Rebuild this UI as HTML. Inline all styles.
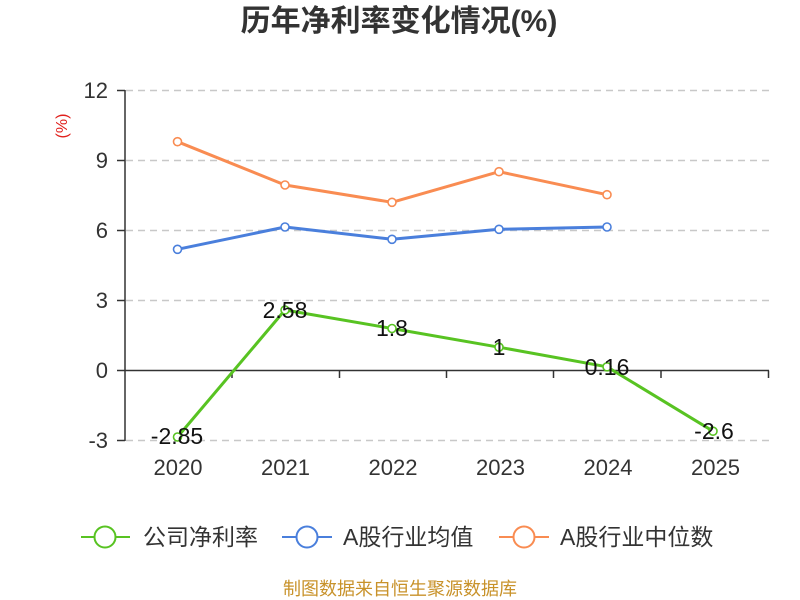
<!DOCTYPE html>
<html><head><meta charset="utf-8"><style>
html,body{margin:0;padding:0;background:#fff;width:800px;height:600px;overflow:hidden}
svg{display:block}
text{font-family:"Liberation Sans","Noto Sans CJK SC",sans-serif}
</style></head><body>
<svg width="800" height="600" viewBox="0 0 800 600" xmlns="http://www.w3.org/2000/svg">
<text x="399" y="31" text-anchor="middle" font-size="30" font-weight="bold" fill="#333" font-family="'Liberation Sans','Noto Sans CJK SC',sans-serif">历年净利率变化情况(%)</text>
<g stroke="#c8c8c8" stroke-width="1.5" stroke-dasharray="7,5">
<line x1="126" y1="90.5" x2="769" y2="90.5"/>
<line x1="126" y1="160.5" x2="769" y2="160.5"/>
<line x1="126" y1="230.5" x2="769" y2="230.5"/>
<line x1="126" y1="300.5" x2="769" y2="300.5"/>
<line x1="126" y1="440.5" x2="769" y2="440.5"/>
</g>
<g stroke="#333" stroke-width="1.5" fill="none">
<line x1="125" y1="90" x2="125" y2="441"/>
<line x1="117" y1="90.5" x2="125" y2="90.5"/>
<line x1="117" y1="160.5" x2="125" y2="160.5"/>
<line x1="117" y1="230.5" x2="125" y2="230.5"/>
<line x1="117" y1="300.5" x2="125" y2="300.5"/>
<line x1="117" y1="370.5" x2="125" y2="370.5"/>
<line x1="117" y1="440.5" x2="125" y2="440.5"/>
<line x1="125" y1="370.5" x2="769" y2="370.5"/>
<line x1="232" y1="370.5" x2="232" y2="378"/>
<line x1="339.5" y1="370.5" x2="339.5" y2="378"/>
<line x1="446.5" y1="370.5" x2="446.5" y2="378"/>
<line x1="553.5" y1="370.5" x2="553.5" y2="378"/>
<line x1="661" y1="370.5" x2="661" y2="378"/>
<line x1="768.5" y1="370.5" x2="768.5" y2="378"/>
</g>
<g font-size="22" fill="#333" text-anchor="end">
<text x="108" y="98">12</text>
<text x="108" y="168">9</text>
<text x="108" y="238">6</text>
<text x="108" y="308">3</text>
<text x="108" y="378">0</text>
<text x="108" y="448">-3</text>
</g>
<text transform="translate(67,126) rotate(-90)" text-anchor="middle" font-size="16" fill="#e0201c">(%)</text>
<g font-size="22" fill="#333" text-anchor="middle">
<text x="178" y="475">2020</text>
<text x="285.5" y="475">2021</text>
<text x="393" y="475">2022</text>
<text x="500.5" y="475">2023</text>
<text x="608" y="475">2024</text>
<text x="715.5" y="475">2025</text>
</g>
<polyline fill="none" stroke="#f98c52" stroke-width="3" stroke-linejoin="round" points="177.5,141.7 285,185 392,202.3 499,171.7 607,194.7"/>
<polyline fill="none" stroke="#4a7fdc" stroke-width="3" stroke-linejoin="round" points="177.5,249.3 285,227 392,239.3 499,229.3 607,227"/>
<polyline fill="none" stroke="#58c322" stroke-width="3" stroke-linejoin="round" points="177.5,437 285,310 392,328.5 499,347.2 607,366.8 713,431.2"/>
<g fill="#fff" stroke="#f98c52" stroke-width="1.6">
<circle cx="177.5" cy="141.7" r="4"/><circle cx="285" cy="185" r="4"/><circle cx="392" cy="202.3" r="4"/><circle cx="499" cy="171.7" r="4"/><circle cx="607" cy="194.7" r="4"/>
</g>
<g fill="#fff" stroke="#4a7fdc" stroke-width="1.6">
<circle cx="177.5" cy="249.3" r="4"/><circle cx="285" cy="227" r="4"/><circle cx="392" cy="239.3" r="4"/><circle cx="499" cy="229.3" r="4"/><circle cx="607" cy="227" r="4"/>
</g>
<g fill="#fff" stroke="#58c322" stroke-width="1.6">
<circle cx="177.5" cy="437" r="4"/><circle cx="285" cy="310" r="4"/><circle cx="392" cy="328.5" r="4"/><circle cx="499" cy="347.2" r="4"/><circle cx="607" cy="366.8" r="4"/><circle cx="713" cy="431.2" r="4"/>
</g>
<g font-size="23" fill="#111" text-anchor="middle">
<text x="177" y="444">-2.85</text>
<text x="285" y="318">2.58</text>
<text x="392" y="336">1.8</text>
<text x="499" y="355">1</text>
<text x="607" y="375">0.16</text>
<text x="714" y="439">-2.6</text>
</g>
<g>
<line x1="81" y1="537" x2="130" y2="537" stroke="#58c322" stroke-width="2"/>
<circle cx="105" cy="537" r="10.5" fill="#fff" stroke="#58c322" stroke-width="2"/>
<text x="143" y="545" font-size="23" fill="#333">公司净利率</text>
<line x1="282" y1="537" x2="332" y2="537" stroke="#4a7fdc" stroke-width="2"/>
<circle cx="307" cy="537" r="10.5" fill="#fff" stroke="#4a7fdc" stroke-width="2"/>
<text x="343" y="545" font-size="23" fill="#333">A股行业均值</text>
<line x1="499" y1="537" x2="549" y2="537" stroke="#f98c52" stroke-width="2"/>
<circle cx="524" cy="537" r="10.5" fill="#fff" stroke="#f98c52" stroke-width="2"/>
<text x="560" y="545" font-size="23" fill="#333">A股行业中位数</text>
</g>
<text x="400" y="595" text-anchor="middle" font-size="18" fill="#c8922a">制图数据来自恒生聚源数据库</text>
</svg>
</body></html>
